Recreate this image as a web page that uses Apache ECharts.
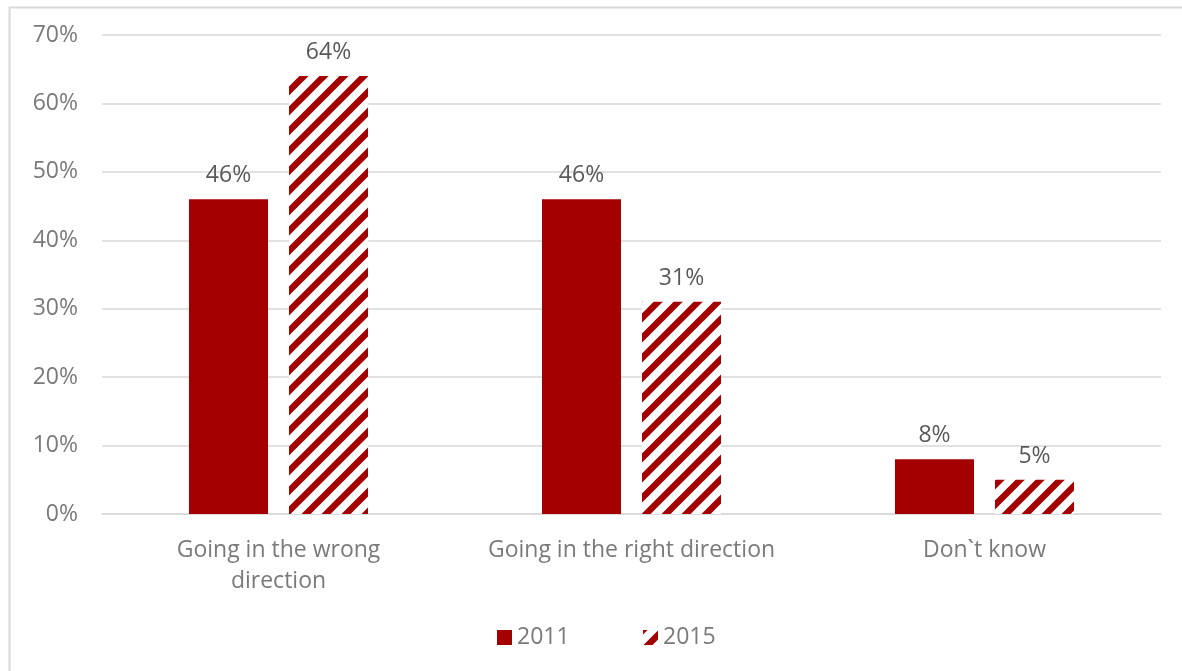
<!DOCTYPE html>
<html>
<head>
<meta charset="utf-8">
<script src="https://cdn.jsdelivr.net/npm/echarts@6/dist/echarts.min.js"></script>
<style>html,body{margin:0;padding:0;background:#fff;}#c{width:1182px;height:671px;}</style>
</head>
<body>
<div id="c"></div>
<script>
const categories = ["Going in the wrong\ndirection", "Going in the right direction", "Don`t know"];
const seriesNames = ["2011", "2015"];
const values2011 = [46, 46, 8];
const values2015 = [64, 31, 5];
const yTicks = [0, 10, 20, 30, 40, 50, 60, 70];

const RED = '#a50000';
function stripeTile() {
  const s = 20;
  const cv = document.createElement('canvas');
  cv.width = s; cv.height = s;
  const ctx = cv.getContext('2d');
  ctx.fillStyle = '#ffffff';
  ctx.fillRect(0, 0, s, s);
  ctx.strokeStyle = RED;
  ctx.lineWidth = 6.5;
  ctx.lineCap = 'square';
  ctx.beginPath();
  ctx.moveTo(-2, s + 2); ctx.lineTo(s + 2, -2);
  ctx.moveTo(-s / 2, s / 2); ctx.lineTo(s / 2, -s / 2);
  ctx.moveTo(s / 2, s * 1.5); ctx.lineTo(s * 1.5, s / 2);
  ctx.stroke();
  return cv;
}
const pattern = { image: stripeTile(), repeat: 'repeat' };

const FONT = 'Open Sans';
const FS = 23;
const legendText = { color: '#7a7a7a', fontSize: FS, fontFamily: FONT };
const chart = echarts.init(document.getElementById('c'), null, { renderer: 'canvas' });
chart.setOption({
  animation: false,
  backgroundColor: '#ffffff',
  graphic: [{
    type: 'rect', left: 7, top: 5, silent: true,
    shape: { width: 1200, height: 700 },
    style: { fill: 'none', stroke: '#d9d9d9', lineWidth: 2 }
  }],
  grid: { left: 102, right: 21, top: 35, bottom: 157, containLabel: false },
  legend: [
    { left: 492, top: 621, itemWidth: 15, itemHeight: 15, textStyle: legendText,
      data: [{ name: seriesNames[0], icon: 'rect' }] },
    { left: 638, top: 621, itemWidth: 15, itemHeight: 15, textStyle: legendText,
      data: [{ name: seriesNames[1], icon: 'rect' }] }
  ],
  xAxis: {
    type: 'category',
    data: categories,
    axisTick: { show: false },
    axisLine: { lineStyle: { color: '#d9d9d9', width: 1.5 } },
    axisLabel: { color: '#7a7a7a', fontSize: FS, fontFamily: FONT, margin: 21, lineHeight: 31, interval: 0 }
  },
  yAxis: {
    type: 'value', min: yTicks[0], max: yTicks[yTicks.length - 1], interval: 10,
    axisLine: { show: false }, axisTick: { show: false },
    splitLine: { lineStyle: { color: '#d9d9d9', width: 1.5 } },
    axisLabel: { formatter: '{value}%', color: '#7a7a7a', fontSize: FS, fontFamily: FONT, margin: 24 }
  },
  series: [
    {
      name: seriesNames[0], type: 'bar', data: values2011,
      barWidth: 79, barGap: '26.6%',
      itemStyle: { color: RED },
      label: { show: true, position: 'top', distance: 12, formatter: '{c}%', color: '#595959', fontSize: FS, fontFamily: FONT }
    },
    {
      name: seriesNames[1], type: 'bar', data: values2015,
      barWidth: 79, barGap: '26.6%',
      itemStyle: { color: pattern },
      label: { show: true, position: 'top', distance: 12, formatter: '{c}%', color: '#595959', fontSize: FS, fontFamily: FONT }
    }
  ]
});
</script>
</body>
</html>
